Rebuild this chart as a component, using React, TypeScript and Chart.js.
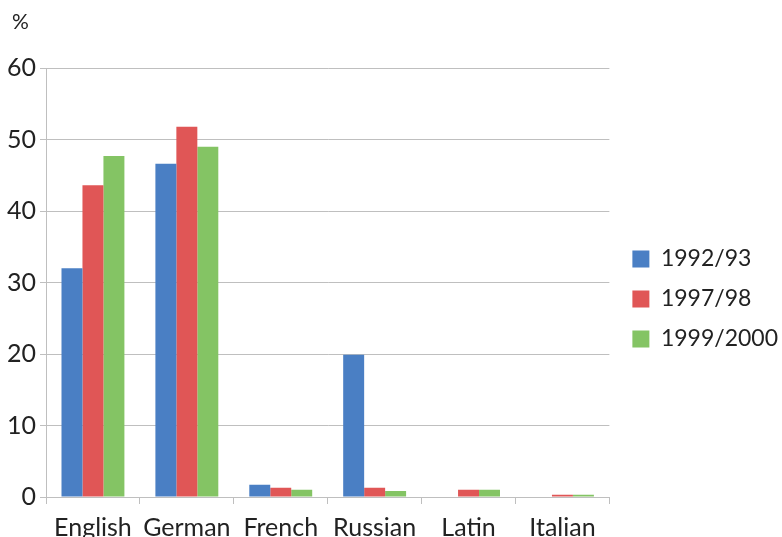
import React, { useEffect, useRef } from "react";
import { Chart, registerables } from "chart.js";

Chart.register(...registerables);

const categories = ["English", "German", "French", "Russian", "Latin", "Italian"];
const seriesNames = ["1992/93", "1997/98", "1999/2000"];
const values1992 = [32.0, 46.6, 1.7, 19.9, 0, 0];
const values1997 = [43.6, 51.8, 1.3, 1.3, 1.0, 0.3];
const values1999 = [47.7, 49.0, 1.0, 0.85, 1.0, 0.3];
const colors = ["#4A7FC4", "#E05656", "#84C464"];
const unitLabel = "%";

const FONT = "Lato, 'Open Sans', sans-serif";
const GRID = "#BFBFBF";

const unitPlugin = {
  id: "unitLabel",
  afterLayout(chart: any) {
    const lg = chart.legend;
    if (lg) {
      lg.left += 6;
      lg.right += 6;
      lg.top -= 11;
      lg.bottom -= 11;
    }
  },
  afterDraw(chart: any) {
    const { ctx, chartArea } = chart;
    ctx.save();
    ctx.fillStyle = "#222";
    ctx.font = `21px ${FONT}`;
    ctx.textAlign = "left";
    ctx.textBaseline = "middle";
    ctx.fillText(unitLabel, chartArea.left - 34, chartArea.top - 46);
    ctx.restore();
  },
};

export default function App() {
  const ref = useRef<HTMLCanvasElement | null>(null);
  useEffect(() => {
    document.body.style.margin = "0";
    const ctx = ref.current!;
    const chart = new Chart(ctx, {
      type: "bar",
      data: {
        labels: categories,
        datasets: [values1992, values1997, values1999].map((d, i) => ({
          label: seriesNames[i],
          data: d,
          backgroundColor: colors[i],
          borderWidth: 0,
          categoryPercentage: 0.67,
          barPercentage: 1,
        })),
      },
      options: {
        animation: false,
        responsive: false,
        maintainAspectRatio: false,
        layout: { padding: { left: 3, right: 0, top: 68, bottom: 0 } },
        plugins: {
          tooltip: { enabled: false },
          title: { display: false },
          legend: {
            position: "right",
            align: "center",
            labels: {
              color: "#222",
              font: { family: FONT, size: 23 },
              boxWidth: 17,
              boxHeight: 17,
              padding: 17,
            },
          },
        },
        scales: {
          x: {
            grid: {
              drawOnChartArea: false,
              drawTicks: true,
              tickLength: 7,
              color: GRID,
              offset: true,
            },
            border: { color: GRID, width: 1 },
            ticks: {
              color: "#222",
              font: { family: FONT, size: 25 },
              padding: 9,
              maxRotation: 0,
            },
          },
          y: {
            min: 0,
            max: 60,
            grid: { color: GRID, tickLength: 6 },
            border: { color: GRID, width: 1 },
            ticks: {
              stepSize: 10,
              color: "#222",
              font: { family: FONT, size: 25 },
              padding: 4,
            },
          },
        },
      },
      plugins: [unitPlugin],
    });
    return () => chart.destroy();
  }, []);
  return (
    <div style={{ position: "fixed", left: 0, top: 0, width: 782, height: 537, overflow: "hidden", background: "#fff" }}>
      <canvas ref={ref} width={782} height={552} style={{ display: "block" }} />
    </div>
  );
}
